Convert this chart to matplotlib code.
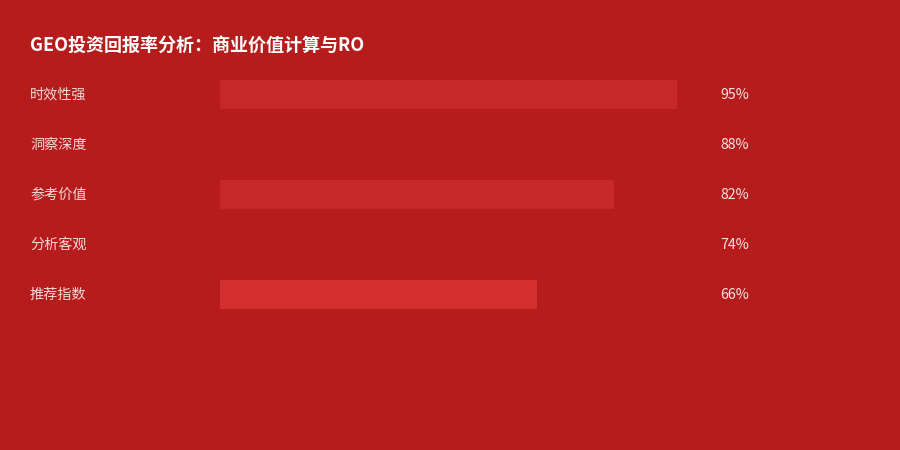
import matplotlib
matplotlib.use("Agg")
import matplotlib.pyplot as plt
from matplotlib.transforms import blended_transform_factory, offset_copy

plt.rcParams['font.family'] = ['Noto Sans CJK SC', 'DejaVu Sans']

title = "GEO投资回报率分析：商业价值计算与RO"
categories = ["时效性强", "洞察深度", "参考价值", "分析客观", "推荐指数"]
values = [95, 88, 82, 74, 66]
value_labels = ["95%", "88%", "82%", "74%", "66%"]
bar_colors = ["#C62828", "#B71C1C", "#C62828", "#B71C1C", "#D32F2F"]

BG = "#B71C1C"
W, H = 900, 450
fig = plt.figure(figsize=(9, 4.5), dpi=100, facecolor=BG)

ax = fig.add_axes([220 / W, (H - 319) / H, 481 / W, 250 / H])
ax.set_facecolor(BG)
ax.patch.set_alpha(0)
y = list(range(len(categories)))
ax.barh(y, values, height=0.58, color=bar_colors, linewidth=0)
ax.set_xlim(0, 100)
ax.set_ylim(len(categories) - 0.5, -0.5)
ax.axis("off")

trans = blended_transform_factory(fig.transFigure, ax.transData)
trans = offset_copy(trans, fig=fig, x=0, y=-1, units="dots")
for i, (c, v) in enumerate(zip(categories, value_labels)):
    ax.text(30 / W, i, c, transform=trans, ha="left", va="center",
            fontsize=10.2, color="#F8D7D7")
    ax.text(720 / W, i, v, transform=trans, ha="left", va="center",
            fontsize=10.2, color="#F8E4E4")

fig.text(30 / W, 1 - 45 / H, title, ha="left", va="center",
         fontsize=13, fontweight="bold", color="white")

fig.savefig("out.png", dpi=100, facecolor=BG)
